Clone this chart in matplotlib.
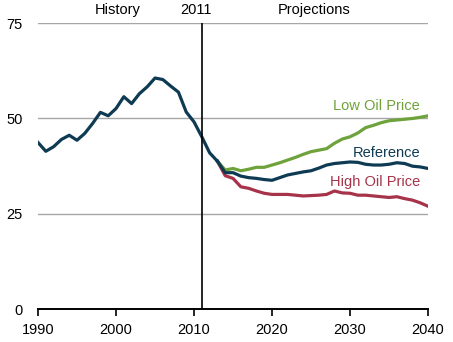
import matplotlib
matplotlib.use("Agg")
import matplotlib.pyplot as plt

plt.rcParams['font.family'] = ['Liberation Sans', 'DejaVu Sans']

# history, 1990-2013
hist_years = list(range(1990, 2014))
hist_vals = [43.7, 41.4, 42.6, 44.5, 45.6, 44.3, 46.1, 48.7, 51.6, 50.7,
             52.6, 55.7, 53.9, 56.5, 58.3, 60.6, 60.2, 58.5, 56.9, 51.7,
             49.1, 45.2, 41.0, 38.8]

# projections, 2013-2040
proj_years = list(range(2013, 2041))
reference = [38.8, 35.8, 35.8, 34.9, 34.5, 34.3, 34.0, 33.8, 34.5, 35.2,
             35.6, 36.0, 36.3, 37.0, 37.8, 38.2, 38.4, 38.6, 38.5, 38.0,
             37.8, 37.8, 38.0, 38.4, 38.2, 37.5, 37.3, 36.9]
low_oil = [38.8, 36.5, 36.9, 36.3, 36.7, 37.2, 37.2, 37.8, 38.4, 39.1,
           39.8, 40.6, 41.3, 41.7, 42.1, 43.5, 44.6, 45.2, 46.2, 47.6,
           48.2, 48.9, 49.4, 49.6, 49.8, 50.0, 50.3, 50.7]
high_oil = [38.8, 35.0, 34.3, 32.1, 31.7, 31.0, 30.4, 30.1, 30.1, 30.1,
            29.9, 29.7, 29.8, 29.9, 30.1, 31.0, 30.5, 30.4, 29.9, 29.9,
            29.7, 29.5, 29.3, 29.5, 29.0, 28.6, 27.9, 27.0]

navy = '#0e3b53'
green = '#6ea23a'
red = '#a7334a'

fig = plt.figure(figsize=(4.53, 3.42), dpi=100)
ax = fig.add_axes([0.0839, 0.0956, 0.861, 0.837])

for y in [25, 50, 75]:
    ax.axhline(y, color='#a6a6a6', lw=1.0, zorder=1)

ax.plot(proj_years, high_oil, color=red, lw=2.3, zorder=3)
ax.plot(proj_years, low_oil, color=green, lw=2.3, zorder=3)
ax.plot(proj_years, reference, color=navy, lw=2.3, zorder=4)
ax.plot(hist_years, hist_vals, color=navy, lw=2.3, zorder=4)

ax.axvline(2011, color='black', lw=1.2, zorder=5)

ax.set_xlim(1990, 2040)
ax.set_ylim(0, 75)
ax.set_xticks([1990, 2000, 2010, 2020, 2030, 2040])
ax.set_yticks([0, 25, 50, 75])
for s in ['top', 'right', 'left']:
    ax.spines[s].set_visible(False)
ax.spines['bottom'].set_linewidth(1.4)
ax.tick_params(axis='x', length=5, width=1.2, pad=5, labelsize=10.5)
ax.tick_params(axis='y', length=0, pad=11, labelsize=10.5)

fs = 10.5
ax.text(2000.2, 78.5, 'History', ha='center', va='center', fontsize=fs)
ax.text(2010.3, 78.5, '2011', ha='center', va='center', fontsize=fs)
ax.text(2025.4, 78.5, 'Projections', ha='center', va='center', fontsize=fs)
ax.text(2039, 53.2, 'Low Oil Price', ha='right', va='center', color=green, fontsize=fs)
ax.text(2039, 41.0, 'Reference', ha='right', va='center', color=navy, fontsize=fs)
ax.text(2039, 33.4, 'High Oil Price', ha='right', va='center', color=red, fontsize=fs)

fig.savefig('out.png', dpi=100)
